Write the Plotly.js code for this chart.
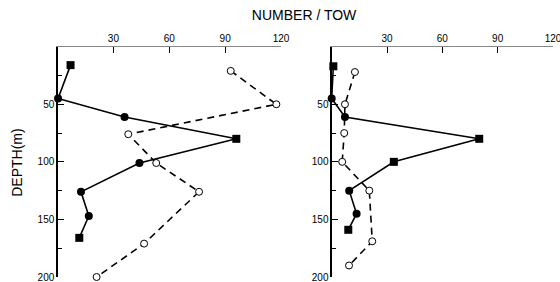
<!DOCTYPE html>
<html>
<head>
<meta charset="utf-8">
<script src="https://cdn.plot.ly/plotly-3.0.1.min.js"></script>
<style>html,body{margin:0;padding:0;background:#fff;}#chart{width:560px;height:282px;}</style>
</head>
<body>
<div id="chart"></div>
<script>
// Left panel
const leftFilledDepth = [16, 45, 61, 80, 101, 126, 147, 166];
const leftFilledNum   = [7, 0.3, 36, 96, 44, 12.6, 16.8, 11.7];
const leftOpenDepth   = [21, 50, 76, 101, 126, 171, 200];
const leftOpenNum     = [93, 117.5, 38, 53, 76, 46.5, 21];
// Right panel
const rightFilledDepth = [17, 45, 61, 80, 100, 125, 145, 159];
const rightFilledNum   = [0.9, 0, 7.2, 80, 33.7, 9.5, 13.5, 9];
const rightOpenDepth   = [22, 50, 75, 100, 125, 169, 190];
const rightOpenNum     = [12.6, 7.2, 6.8, 5.7, 20.4, 22, 9.4];

const xTicks = [0, 30, 60, 90, 120];
const xTickText = ['', '30', '60', '90', '120'];
const yTicks = [50, 100, 150, 200];
const yTickText = ['50', '100', '150', '200'];

const leftFilledSym  = ['square','circle','circle','square','circle','circle','circle','square'];
const rightFilledSym = ['square','circle','circle','square','square','circle','circle','square'];

function filled(x, y, xa, ya, sym) {
  return {x: x, y: y, xaxis: xa, yaxis: ya, type: 'scatter', mode: 'lines+markers',
    line: {color: '#000', width: 1.6},
    marker: {symbol: sym, color: '#000', size: 8, line: {color: '#000', width: 0}},
    hoverinfo: 'none', showlegend: false, cliponaxis: false};
}
function open(x, y, xa, ya) {
  return {x: x, y: y, xaxis: xa, yaxis: ya, type: 'scatter', mode: 'lines+markers',
    line: {color: '#000', width: 1.6, dash: '7px,5px'},
    marker: {symbol: 'circle', color: '#fff', size: 7, line: {color: '#000', width: 1}},
    hoverinfo: 'none', showlegend: false, cliponaxis: false};
}

const data = [
  open(leftOpenNum, leftOpenDepth, 'x', 'y'),
  filled(leftFilledNum, leftFilledDepth, 'x', 'y', leftFilledSym),
  open(rightOpenNum, rightOpenDepth, 'x2', 'y2'),
  filled(rightFilledNum, rightFilledDepth, 'x2', 'y2', rightFilledSym)
];

const font = {family: 'Liberation Sans, Arial, sans-serif', color: '#000', size: 10};
function xax(domain, anchor) {
  return {domain: domain, anchor: anchor, side: 'top', range: [0, 120],
    tickvals: xTicks, ticktext: xTickText, ticks: 'inside', ticklen: 6, tickcolor: '#000',
    showline: true, linecolor: '#888', linewidth: 1, showgrid: false, zeroline: false,
    tickfont: font, fixedrange: true, ticklabeloverflow: 'allow'};
}
function yax(domain, anchor) {
  return {domain: domain, anchor: anchor, range: [200, 0],
    tickvals: yTicks, ticktext: yTickText, ticks: 'inside', ticklen: 6, tickcolor: '#000',
    minor: {tickvals: [25, 75, 125, 175], ticks: 'inside', ticklen: 4, tickcolor: '#000'},
    showline: true, linecolor: '#000', linewidth: 1.2, showgrid: false, zeroline: false,
    tickfont: font, fixedrange: true, ticklabeloverflow: 'allow'};
}

const yDom = [0.0177, 0.8344];
const layout = {
  width: 560, height: 282,
  margin: {l: 0, r: 0, t: 0, b: 0},
  paper_bgcolor: '#fff', plot_bgcolor: 'rgba(0,0,0,0)',
  xaxis: xax([0.1027, 0.5018], 'y'),
  yaxis: yax(yDom, 'x'),
  xaxis2: xax([0.5923, 0.9875], 'y2'),
  yaxis2: yax(yDom, 'x2'),
  title: {text: 'NUMBER / TOW', x: 0.543, xanchor: 'center', y: 0.947, yanchor: 'middle',
    yref: 'container', font: {family: 'Liberation Sans, Arial, sans-serif', size: 14, color: '#000'}},
  annotations: [{
    text: 'DEPTH(m)', xref: 'paper', yref: 'paper', x: 0.030, y: 0.422,
    textangle: -90, showarrow: false, xanchor: 'center', yanchor: 'middle',
    font: {family: 'Liberation Sans, Arial, sans-serif', size: 14, color: '#000'}
  }]
};

Plotly.newPlot('chart', data, layout, {displayModeBar: false, staticPlot: true});
</script>
</body>
</html>
